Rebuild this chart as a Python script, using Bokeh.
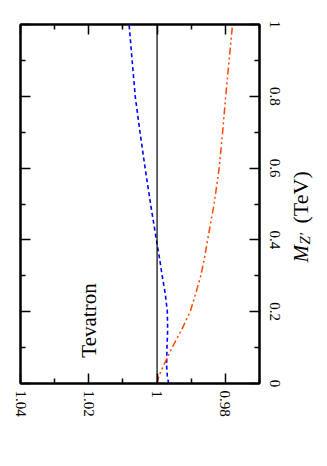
import math
from bokeh.plotting import figure
from bokeh.layouts import row
from bokeh.models import (Range1d, LinearAxis, FixedTicker, Span, Label,
                          CustomLabelingPolicy)
from bokeh.embed import file_html
from bokeh.resources import INLINE

# ---- data ----
mass = [0, 0.02, 0.05, 0.1, 0.15, 0.2, 0.25, 0.3, 0.35, 0.4, 0.5, 0.6, 0.7, 0.8, 0.9, 1.0]
ratio_blue = [0.9966, 0.9970, 0.9972, 0.9971, 0.99690, 0.9970, 0.9976, 0.9985, 0.9993,
              1.0002, 1.0019, 1.0035, 1.0050, 1.0064, 1.0073, 1.0082]
ratio_orange = [1.0000, 0.9995, 0.9981, 0.9956, 0.9928, 0.9903, 0.9887, 0.9872, 0.9861,
                0.9852, 0.9833, 0.9818, 0.9808, 0.9799, 0.9789, 0.9779]
reference_ratio = 1.0

x_ticks = [1.04, 1.02, 1.0, 0.98]
x_tick_labels = ["1.04", "1.02", "1", "0.98"]
x_minor = [1.03, 1.01, 0.99, 0.97]
y_ticks = [0, 0.2, 0.4, 0.6, 0.8, 1.0]
y_tick_labels = ["0", "0.2", "0.4", "0.6", "0.8", "1"]
y_minor = [0.1, 0.3, 0.5, 0.7, 0.9]

FONT = "Liberation Serif"

p = figure(frame_width=239, frame_height=359,
           min_border_left=20, min_border_right=30,
           min_border_top=24, min_border_bottom=75,
           x_range=Range1d(1.04, 0.97), y_range=Range1d(0, 1),
           x_axis_location="below", y_axis_location="right",
           output_backend="svg", toolbar_location=None)
p.xgrid.visible = False
p.ygrid.visible = False
p.outline_line_color = "black"
p.outline_line_width = 2
p.background_fill_color = "white"
p.border_fill_color = "white"


def style_axis(ax, ticks, minor, labels, show_labels):
    ax.ticker = FixedTicker(ticks=ticks, minor_ticks=minor)
    ax.axis_line_color = "black"
    ax.axis_line_width = 2
    ax.major_tick_in = 10
    ax.major_tick_out = 0
    ax.minor_tick_in = 5
    ax.minor_tick_out = 0
    ax.major_tick_line_width = 1.5
    ax.minor_tick_line_width = 1.5
    ax.major_tick_line_color = "black"
    ax.minor_tick_line_color = "black"
    if show_labels:
        ax.major_label_overrides = {t: l for t, l in zip(ticks, labels)}
        ax.major_label_text_font = FONT
        ax.major_label_text_font_size = "15px"
        ax.major_label_text_color = "black"
        ax.major_label_orientation = "vertical"
    else:
        ax.major_label_text_font_size = "1px"
        ax.major_label_standoff = 0
        ax.major_label_policy = CustomLabelingPolicy(code="return new Set()")


style_axis(p.xaxis[0], x_ticks, x_minor, x_tick_labels, True)
p.xaxis[0].major_label_standoff = 7
style_axis(p.yaxis[0], y_ticks, y_minor, y_tick_labels, True)
p.yaxis[0].major_label_standoff = 10

top_axis = LinearAxis()
style_axis(top_axis, x_ticks, x_minor, x_tick_labels, False)
p.add_layout(top_axis, "above")
left_axis = LinearAxis()
style_axis(left_axis, y_ticks, y_minor, y_tick_labels, False)
p.add_layout(left_axis, "left")

# reference line
p.add_layout(Span(location=reference_ratio, dimension="height",
                  line_color="black", line_width=1.2))

p.line(ratio_blue, mass, line_color="#0000ff", line_width=1.6, line_dash="4 3")
p.line(ratio_orange, mass, line_color="#ff4500", line_width=1.5,
       line_dash="7 3 2 3 2 3")

p.add_layout(Label(x=1.020, y=0.1755, text="Tevatron", angle=math.pi / 2,
                   text_align="center", text_baseline="alphabetic",
                   text_font=FONT, text_font_size="21px", text_color="black"))

# ---- narrow strip on the right carrying the rotated axis title M_Z' (TeV) ----
STRIP_W, STRIP_H = 36, 458
t = figure(frame_width=STRIP_W, frame_height=STRIP_H,
           min_border_left=0, min_border_right=0, min_border_top=0, min_border_bottom=0,
           x_range=Range1d(0, STRIP_W), y_range=Range1d(STRIP_H, 0),
           x_axis_location=None, y_axis_location=None,
           output_backend="svg", toolbar_location=None)
t.xgrid.visible = False
t.ygrid.visible = False
t.outline_line_color = None
t.background_fill_color = "white"
t.border_fill_color = "white"

t.add_layout(Label(x=11, y=238, text="M", angle=math.pi / 2,
                   text_align="left", text_baseline="alphabetic",
                   text_font=FONT, text_font_style="italic",
                   text_font_size="21px", text_color="black"))
t.add_layout(Label(x=15, y=220, text="Z\u2032", angle=math.pi / 2,
                   text_align="left", text_baseline="alphabetic",
                   text_font=FONT, text_font_style="italic",
                   text_font_size="15px", text_color="black"))
t.add_layout(Label(x=11, y=199, text="(TeV)", angle=math.pi / 2,
                   text_align="left", text_baseline="alphabetic",
                   text_font=FONT, text_font_size="22px", text_color="black"))

layout = row(p, t, spacing=0)
open("out.html", "w").write(file_html(layout, INLINE))
